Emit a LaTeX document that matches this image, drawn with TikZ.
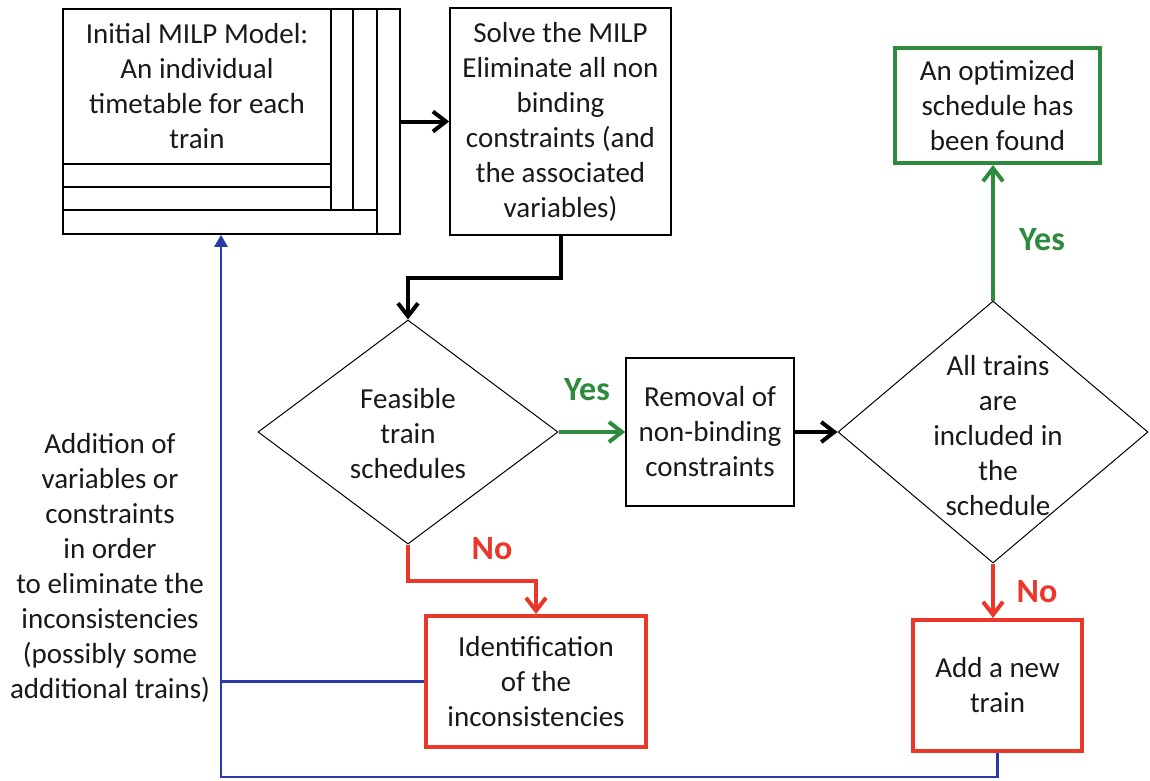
\documentclass[tikz,border=0pt]{standalone}
\usepackage{fontspec}
\setmainfont{Carlito}
\usetikzlibrary{arrows.meta,shapes.geometric}
\definecolor{cred}{RGB}{233,55,42}
\definecolor{cgreen}{RGB}{46,138,60}
\definecolor{cblue}{RGB}{42,58,170}
\definecolor{ctext}{RGB}{25,25,25}
\tikzset{
  box/.style={draw, line width=1.6pt, align=center, inner sep=0pt, text=ctext,
    font=\fontsize{29}{35}\selectfont},
  rbox/.style={box, draw=cred, line width=4pt},
  gbox/.style={box, draw=cgreen, line width=4pt},
  dia/.style={diamond, draw, line width=1pt, inner sep=0pt},
  txt/.style={align=center, inner sep=0pt, text=ctext, font=\fontsize{29}{35}\selectfont},
  tip/.style={-{Straight Barb[length=13pt,width=20pt]}},
  blk/.style={line width=4pt, tip},
  grn/.style={line width=4pt, draw=cgreen, tip},
  rd/.style={line width=4pt, draw=cred, tip},
  bl/.style={line width=2.8pt, draw=cblue},
  lbl/.style={inner sep=0pt, font=\fontsize{34}{40}\selectfont\bfseries},
}
\begin{document}
\begin{tikzpicture}[x=1pt,y=-1pt]
\useasboundingbox (0,0) rectangle (1150,780);
% stacked initial model box
\node[box, minimum width=337pt, minimum height=225pt] (box1outer) at (231.5,121.5) {};
\node[box, minimum width=268pt, minimum height=155pt] (box1) at (197,86.5)
  {Initial MILP Model:\\An individual\\timetable for each\\train};
\draw[line width=1.6pt] (63,187) -- (331,187);
\draw[line width=1.6pt] (63,210) -- (377,210);
\draw[line width=1.6pt] (331,164) -- (331,210);
\draw[line width=1.6pt] (353,9) -- (353,210);
\draw[line width=1.6pt] (377,9) -- (377,234);
% other nodes
\node[box, minimum width=221pt, minimum height=227pt] (box2) at (560.5,121.5)
  {Solve the MILP\\Eliminate all non\\binding\\constraints (and\\the associated\\variables)};
\node[dia, minimum width=300pt, minimum height=224pt] (d1) at (408,432) {};
\node[txt] (d1t) at (408,434) {Feasible\\train\\schedules};
\node[box, minimum width=168pt, minimum height=148pt] (rem) at (710,432)
  {Removal of\\non-binding\\constraints};
\node[dia, minimum width=310pt, minimum height=262pt] (d2) at (993,432) {};
\node[txt] (d2t) at (998,436) {All trains\\are\\included in\\the\\schedule};
\node[gbox, minimum width=205pt, minimum height=115pt] (green) at (997.5,105.5)
  {An optimized\\schedule has\\been found};
\node[rbox, minimum width=169pt, minimum height=131pt] (add) at (997.5,685.5)
  {Add a new\\train};
\node[rbox, minimum width=220pt, minimum height=131pt] (iden) at (536,681.5)
  {Identification\\of the\\inconsistencies};
\node[txt] (left) at (110,568)
  {Addition of\\variables or\\constraints\\in order\\to eliminate the\\inconsistencies\\(possibly some\\additional trains)};
\coordinate (loop) at (221,777);
% connectors
\draw[blk] (box1outer.east) -- (box2.west |- box1outer.east);
\draw[blk] (box2.south) -- ++(0,42) -| (d1.north);
\draw[grn] (d1.east) -- (rem.west);
\draw[blk] (rem.east) -- (d2.west);
\draw[grn] (d2.north) -- (d2.north |- green.south);
\draw[rd] (d2.south) -- (d2.south |- add.north);
\draw[rd] (d1.south) -- ++(0,36) -| (iden.north);
\draw[bl, -{Triangle[length=12pt,width=13pt]}] (add.south) |- (loop) -- (box1outer.south -| loop);
\draw[bl] (iden.west) -- (iden.west -| loop);
% labels
\node[lbl, text=cgreen] (yes1) at (587,390) {Yes};
\node[lbl, text=cgreen] (yes2) at (1042,240) {Yes};
\node[lbl, text=cred] (no1) at (492,549) {No};
\node[lbl, text=cred] (no2) at (1037,592) {No};
\end{tikzpicture}
\end{document}
